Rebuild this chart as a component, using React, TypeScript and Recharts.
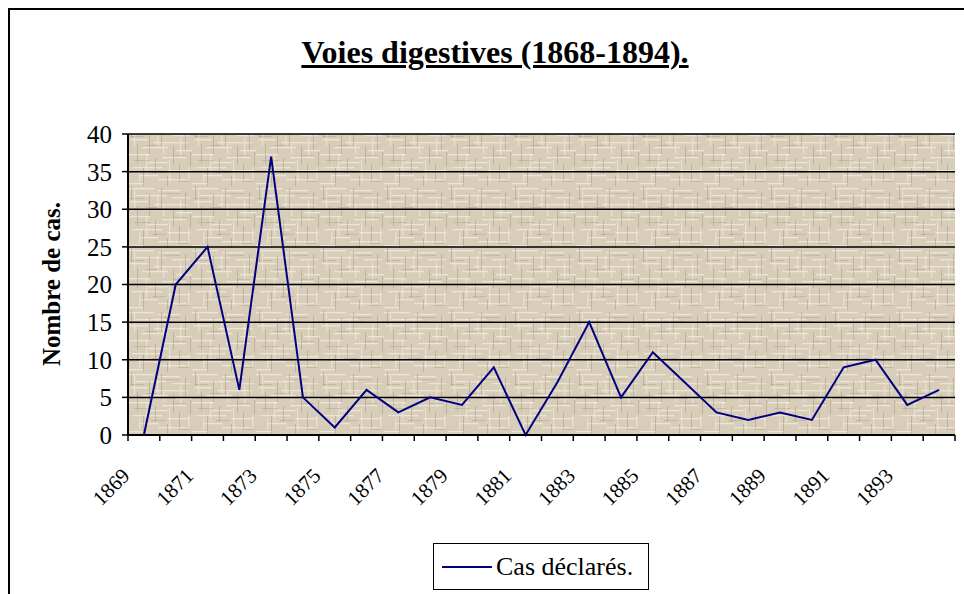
import React from 'react';
import { LineChart, Line, XAxis, YAxis, CartesianGrid, Legend } from 'recharts';

const years = ['1869', '1870', '1871', '1872', '1873', '1874', '1875', '1876', '1877', '1878', '1879', '1880', '1881',
  '1882', '1883', '1884', '1885', '1886', '1887', '1888', '1889', '1890', '1891', '1892', '1893', '1894'];
const cases = [0, 20, 25, 6, 37, 5, 1, 6, 3, 5, 4, 9, 0, 7, 15, 5, 11, 7, 3, 2, 3, 2, 9, 10, 4, 6];
const yTicks = [0, 5, 10, 15, 20, 25, 30, 35, 40];
const seriesName = 'Cas déclarés.';
const chartTitle = 'Voies digestives (1868-1894).';
const yAxisTitle = 'Nombre de cas.';

const data = years.map((year, i) => ({ year, cases: cases[i] }));

const FONT = "'Liberation Serif', 'Times New Roman', serif";
const NAVY = '#000080';

// paper texture strokes (style only): [x, y, length]
const lightH = [[0, 2, 26], [30, 4, 22], [8, 9, 30], [44, 11, 18], [2, 15, 18], [26, 18, 34], [14, 23, 26], [48, 26, 16],
  [0, 30, 22], [34, 33, 24], [20, 38, 20], [4, 43, 30], [40, 46, 22], [12, 51, 18], [30, 55, 28], [0, 59, 16]];
const lightV = [[6, 4, 18], [18, 30, 20], [29, 8, 16], [41, 36, 22], [52, 14, 20], [60, 44, 14], [11, 46, 12], [35, 20, 10]];
const darkV = [[3, 0, 14], [9, 20, 20], [15, 44, 18], [21, 8, 22], [27, 34, 16], [33, 2, 20], [39, 52, 12], [45, 22, 18],
  [51, 40, 16], [57, 6, 20], [62, 28, 14]];
const darkH = [[2, 12, 14], [18, 21, 12], [36, 7, 16], [6, 36, 16], [24, 48, 14], [46, 31, 12], [50, 57, 12]];

const XTick = (props: any) => {
  const { x, y, index, payload } = props;
  const half = payload && payload.offset ? payload.offset : 0;
  const axisY = y - 8;
  const ax = x - half + 3;
  const ay = y + 34;
  return (
    <g>
      <line x1={x - half} x2={x - half} y1={axisY} y2={axisY + 6} stroke="#000" strokeWidth={1.5} />
      {index === years.length - 1 && (
        <line x1={x + half} x2={x + half} y1={axisY} y2={axisY + 6} stroke="#000" strokeWidth={1.5} />
      )}
      {index % 2 === 0 && (
        <text
          x={ax}
          y={ay}
          transform={`rotate(-45, ${ax}, ${ay})`}
          textAnchor="end"
          fill="#000"
          fontSize={21}
          fontFamily={FONT}
        >
          {payload.value}
        </text>
      )}
    </g>
  );
};

const LegendBox = () => (
  <div
    style={{
      border: '1.5px solid #000',
      background: '#fff',
      display: 'flex',
      alignItems: 'center',
      width: 216,
      height: 47,
      boxSizing: 'border-box',
      padding: '0 0 0 8px',
      fontFamily: FONT,
      fontSize: 26,
      color: '#000',
      whiteSpace: 'nowrap',
    }}
  >
    <svg width={50} height={10} style={{ marginRight: 4 }}>
      <line x1={0} x2={50} y1={5} y2={5} stroke={NAVY} strokeWidth={2} />
    </svg>
    <span>{seriesName}</span>
  </div>
);

export default function App() {
  return (
    <div style={{ position: 'fixed', left: 0, top: 0, width: 964, height: 594, overflow: 'hidden', background: '#fff' }}>
      <div style={{ position: 'absolute', left: 8, top: 8, width: 1000, height: 700, border: '2px solid #000', boxSizing: 'border-box' }} />
      <div
        style={{
          position: 'absolute',
          left: 0,
          width: 990,
          top: 36,
          textAlign: 'center',
          fontFamily: FONT,
          fontWeight: 'bold',
          fontSize: 32,
          lineHeight: '32px',
          textDecoration: 'underline',
          textDecorationThickness: 3,
          color: '#000',
        }}
      >
        {chartTitle}
      </div>
      <div
        style={{
          position: 'absolute',
          left: 52,
          top: 284,
          transform: 'translate(-50%, -50%) rotate(-90deg)',
          fontFamily: FONT,
          fontWeight: 'bold',
          fontSize: 25,
          whiteSpace: 'nowrap',
          color: '#000',
        }}
      >
        {yAxisTitle}
      </div>
      <div style={{ position: 'absolute', left: 0, top: 0 }}>
        <LineChart width={964} height={594} data={data} margin={{ top: 134, right: 9, bottom: 59, left: 0 }}>
          <defs>
            <pattern id="paper" x={0} y={0} width={64} height={62} patternUnits="userSpaceOnUse">
              <rect x={0} y={0} width={64} height={62} fill="#d8cdb8" />
              {lightH.map(([x0, y0, w], i) => (
                <rect key={'l' + i} x={x0} y={y0} width={w} height={1.3} fill="#f2ece0" opacity={0.75} />
              ))}
              {lightV.map(([x0, y0, h], i) => (
                <rect key={'lv' + i} x={x0} y={y0} width={1.3} height={h} fill="#f2ece0" opacity={0.6} />
              ))}
              {darkV.map(([x0, y0, h], i) => (
                <rect key={'v' + i} x={x0} y={y0} width={1} height={h} fill="#ab9e88" opacity={0.55} />
              ))}
              {darkH.map(([x0, y0, w], i) => (
                <rect key={'d' + i} x={x0} y={y0} width={w} height={1} fill="#b0a38d" opacity={0.5} />
              ))}
            </pattern>
          </defs>
          <CartesianGrid vertical={false} stroke="#000" strokeWidth={1.5} fill="url(#paper)" fillOpacity={1} />
          <XAxis
            dataKey="year"
            scale="band"
            height={100}
            interval={0}
            tickLine={false}
            axisLine={{ stroke: '#000', strokeWidth: 2 }}
            tick={<XTick />}
          />
          <YAxis
            width={128}
            domain={[0, 40]}
            ticks={yTicks}
            interval={0}
            tickSize={6}
            tickMargin={10}
            tickLine={{ stroke: '#000', strokeWidth: 1.5 }}
            axisLine={{ stroke: '#000', strokeWidth: 2 }}
            tick={{ fill: '#000', fontSize: 25, fontFamily: FONT }}
          />
          <YAxis
            yAxisId="right"
            orientation="right"
            width={0}
            domain={[0, 40]}
            tick={false}
            tickLine={false}
            axisLine={{ stroke: '#000', strokeWidth: 2 }}
          />
          <Legend
            layout="horizontal"
            verticalAlign="middle"
            align="center"
            content={<LegendBox />}
            wrapperStyle={{ left: 433, top: 543, width: 'auto', height: 'auto' }}
          />
          <Line
            type="linear"
            dataKey="cases"
            name={seriesName}
            stroke={NAVY}
            strokeWidth={2}
            dot={false}
            activeDot={false}
            isAnimationActive={false}
          />
        </LineChart>
      </div>
    </div>
  );
}
